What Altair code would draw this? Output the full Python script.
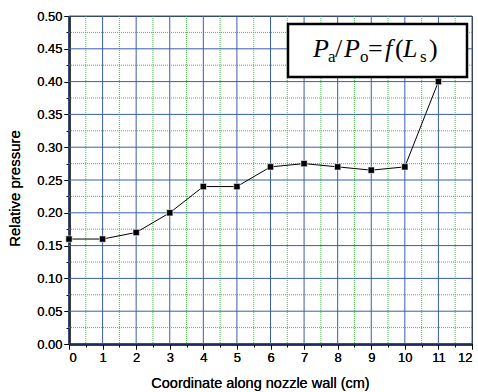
import altair as alt
import pandas as pd

# Measured relative pressure along the nozzle wall
coord_cm = [0, 1, 2, 3, 4, 5, 6, 7, 8, 9, 10, 11]
rel_pressure = [0.16, 0.16, 0.17, 0.20, 0.24, 0.24, 0.27, 0.275, 0.27, 0.265, 0.27, 0.40]

x_major = list(range(0, 13))
x_minor = [v + 0.5 for v in range(0, 12)]
y_major = [round(0.05 * i, 2) for i in range(0, 11)]
y_minor = [round(0.025 + 0.05 * i, 3) for i in range(0, 10)]

W, H = 403, 328
LEFT, TOP = 69, 16

df = pd.DataFrame({"x": coord_cm, "y": rel_pressure})

xs = alt.Scale(domain=[0, 12], nice=False, zero=False)
ys = alt.Scale(domain=[0, 0.5], nice=False, zero=False)

font = "Liberation Sans"
serif = "Liberation Serif"

# minor grid (green dotted) + minor ticks
minor_vx = alt.Chart(pd.DataFrame({"x": x_minor})).mark_rule(
    color="#4cbb4c", strokeWidth=1, strokeDash=[1, 1]
).encode(
    x=alt.X("x:Q", scale=xs, axis=alt.Axis(
        orient="bottom", values=x_minor, labels=False, tickSize=3, tickColor="black",
        tickWidth=1, domain=False, grid=False, title=None)),
    y=alt.value(0), y2=alt.value(H),
)
minor_hy = alt.Chart(pd.DataFrame({"y": y_minor})).mark_rule(
    color="#4cbb4c", strokeWidth=1, strokeDash=[1, 1]
).encode(
    y=alt.Y("y:Q", scale=ys, axis=alt.Axis(
        orient="left", values=y_minor, labels=False, tickSize=3, tickColor="black",
        tickWidth=1, domain=False, grid=False, title=None)),
    x=alt.value(0), x2=alt.value(W),
)

# major grid (blue)
major_vx = alt.Chart(pd.DataFrame({"x": x_major})).mark_rule(
    color="#3a5daa", strokeWidth=1
).encode(
    x=alt.X("x:Q", scale=xs, axis=None),
    y=alt.value(0), y2=alt.value(H),
)
major_hy = alt.Chart(pd.DataFrame({"y": y_major})).mark_rule(
    color="#3a5daa", strokeWidth=1
).encode(
    y=alt.Y("y:Q", scale=ys, axis=None),
    x=alt.value(0), x2=alt.value(W),
)

# data line and square markers with the main axes
base = alt.Chart(df).encode(
    x=alt.X("x:Q", scale=xs, axis=alt.Axis(
        orient="bottom", values=x_major, format="d", tickSize=5, tickColor="black",
        tickWidth=1, domainColor="black", domainWidth=2, grid=False,
        labelFont=font, labelFontSize=13, labelColor="black", labelPadding=2,
        title="Coordinate along nozzle wall (cm)", titleFont=font, titleFontSize=14.5,
        titleFontWeight="normal", titleColor="black", titlePadding=12, titleX=191)),
    y=alt.Y("y:Q", scale=ys, axis=alt.Axis(
        orient="left", values=y_major, format=".2f", tickSize=5, tickColor="black",
        tickWidth=1, domainColor="black", domainWidth=2, grid=False,
        labelFont=font, labelFontSize=13, labelColor="black", labelPadding=2,
        title="Relative pressure", titleFont=font, titleFontSize=15,
        titleFontWeight="normal", titleColor="black", titlePadding=14, titleY=172)),
)
line = base.mark_line(color="black", strokeWidth=1)
pts = base.mark_point(shape="square", filled=True, size=40, color="black",
                      stroke="white", strokeWidth=0.6, opacity=1)

# formula box
box = alt.Chart(pd.DataFrame({"k": [0]})).mark_rect(
    fill="white", stroke="black", strokeWidth=2.5
).encode(
    x=alt.value(288 - LEFT), x2=alt.value(467 - LEFT),
    y=alt.value(24 - TOP), y2=alt.value(77 - TOP),
)

pieces = [
    ("P", 313, 57, 26, "italic"),
    ("a", 328, 62, 17, "normal"),
    ("/", 335, 57, 26, "normal"),
    ("P", 344, 57, 26, "italic"),
    ("o", 360, 62, 17, "normal"),
    ("=", 368, 57, 26, "normal"),
    ("f", 385, 57, 26, "italic"),
    ("(", 395, 57, 26, "normal"),
    ("L", 403, 57, 26, "italic"),
    ("s", 420, 62, 17, "normal"),
    (")", 429, 57, 26, "normal"),
]
formula = []
for txt, px, py, fs, style in pieces:
    formula.append(
        alt.Chart(pd.DataFrame({"t": [txt]})).mark_text(
            font=serif, fontSize=fs, fontStyle=style, color="black",
            align="left", baseline="alphabetic"
        ).encode(text="t:N", x=alt.value(px - LEFT), y=alt.value(py - TOP))
    )

chart = alt.layer(
    minor_vx, minor_hy, major_vx, major_hy, line, pts, box, *formula
).resolve_axis(x="independent", y="independent").properties(
    width=W, height=H,
    autosize=alt.AutoSizeParams(type="none"),
    padding={"left": LEFT, "top": TOP, "right": 478 - LEFT - W, "bottom": 392 - TOP - H},
    background="white",
).configure_view(stroke="#333333", strokeWidth=1)

chart.save("out.html", embed_options={"renderer": "svg", "actions": False})
